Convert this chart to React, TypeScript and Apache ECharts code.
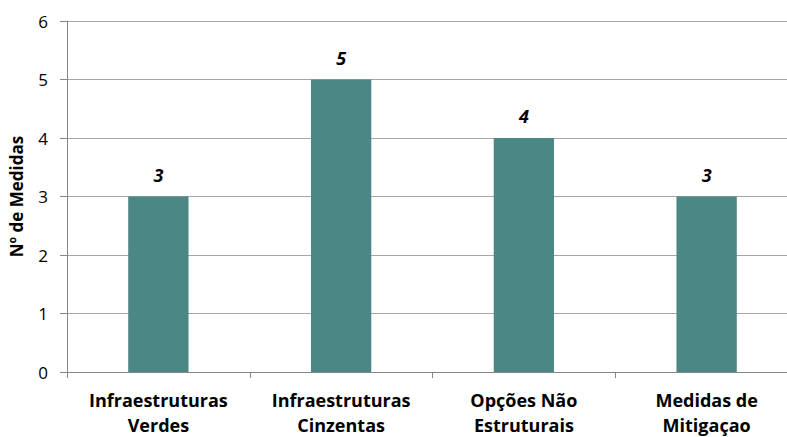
import React, { useEffect, useRef } from "react";
import * as echarts from "echarts";

const categories = ["Infraestruturas\nVerdes", "Infraestruturas\nCinzentas", "Opções Não\nEstruturais", "Medidas de\nMitigaçao"];
const values = [3, 5, 4, 3];
const yAxisName = "Nº de Medidas";

export default function App() {
  const ref = useRef<HTMLDivElement>(null);
  useEffect(() => {
    const chart = echarts.init(ref.current!, null, { renderer: "svg" });
    const font = "'Open Sans', 'DejaVu Sans', sans-serif";
    chart.setOption({
      animation: false,
      textStyle: { fontFamily: font },
      grid: { left: 62, top: 21, width: 736, height: 353, containLabel: false },
      xAxis: {
        type: "category",
        data: categories,
        axisLine: { lineStyle: { color: "#868686", width: 1 } },
        axisTick: { show: true, length: 6, lineStyle: { color: "#868686" } },
        axisLabel: {
          color: "#000",
          fontFamily: font,
          fontSize: 18,
          fontWeight: "bold",
          lineHeight: 25,
          margin: 15,
          interval: 0,
        },
      },
      yAxis: {
        type: "value",
        min: 0,
        max: 6,
        interval: 1,
        name: yAxisName,
        nameLocation: "middle",
        nameGap: 42,
        nameRotate: 90,
        nameTextStyle: { color: "#000", fontFamily: font, fontSize: 17, fontWeight: "bold" },
        axisLine: { show: true, lineStyle: { color: "#868686", width: 1 } },
        axisTick: { show: true, length: 7, lineStyle: { color: "#868686" } },
        axisLabel: { color: "#000", fontFamily: font, fontSize: 17, margin: 19 },
        splitLine: { show: true, lineStyle: { color: "#a6a6a6", width: 1 } },
      },
      series: [
        {
          type: "bar",
          data: values,
          barWidth: "33%",
          itemStyle: { color: "#4a8785" },
          label: {
            show: true,
            position: "top",
            distance: 13,
            color: "#000",
            fontFamily: font,
            fontSize: 18,
            fontWeight: "bold",
            fontStyle: "italic",
          },
        },
      ],
    });
    return () => chart.dispose();
  }, []);
  return (
    <div style={{ position: "fixed", left: 0, top: 0, width: 787, height: 437, overflow: "hidden", background: "#fff" }}>
      <div ref={ref} style={{ width: 800, height: 437 }} />
    </div>
  );
}
